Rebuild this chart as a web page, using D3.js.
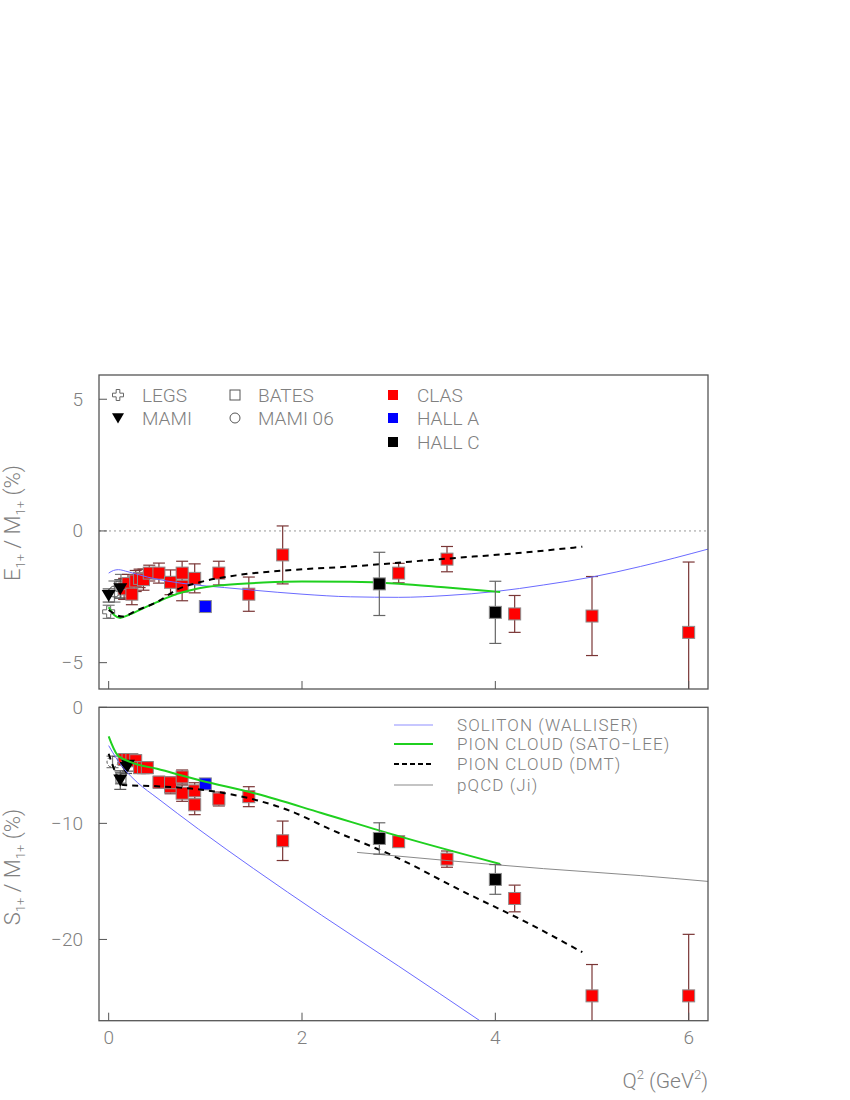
<!DOCTYPE html>
<html><head><meta charset="utf-8">
<script src="https://cdn.jsdelivr.net/npm/d3@7/dist/d3.min.js"></script>
<style>body{margin:0;background:#fff}svg{display:block}text{font-family:Roboto,"Liberation Sans",sans-serif;font-weight:300;fill:#808080}</style>
</head><body><svg id="c" width="850" height="1100"></svg>
<script>
// ---------- DATA ----------
// x tick labels / y ticks
const xTicks = [0, 2, 4, 6];
const emrTicks = [-5, 0, 5];
const cmrTicks = [-20, -10, 0];

// E1+/M1+ (EMR) data: [Q2, value, error]
const emrCLAS = [[0.16,-2.2,0.4],[0.2,-2.0,0.35],[0.24,-2.4,0.4],[0.28,-1.9,0.4],[0.32,-1.8,0.35],[0.36,-1.85,0.4],[0.42,-1.6,0.3],
  [0.52,-1.6,0.38],[0.64,-1.95,0.47],[0.76,-1.6,0.45],[0.76,-2.1,0.55],[0.89,-1.8,0.55],[1.14,-1.6,0.45],[1.45,-2.4,0.65],
  [1.8,-0.91,1.1],[3.0,-1.6,0.37],[3.5,-1.07,0.48],[4.2,-3.15,0.7],[5.0,-3.23,1.5],[6.0,-3.85,2.67]];
const emrHallA = [[1.0,-2.87,0]];
const emrHallC = [[2.8,-2.01,1.2],[4.0,-3.09,1.18]];
const emrLEGS = [[0.0,-3.07,0.25]];
const emrMAMI = [[0.0,-2.45,0.25],[0.12,-2.2,0.35]];
const emrBATES = [[0.127,-2.1,0.45]];
const emrMAMI06 = [[0.06,-2.3,0.4]];

// S1+/M1+ (CMR) data
const cmrCLAS = [[0.16,-4.5,0.5],[0.2,-4.5,0.5],[0.24,-4.5,0.5],[0.28,-4.6,0.5],[0.32,-5.2,0.5],[0.36,-5.2,0.5],[0.4,-5.2,0.5],
  [0.52,-6.45,0.5],[0.64,-6.85,0.6],[0.64,-6.5,0.5],[0.76,-6.0,0.6],[0.76,-7.4,0.7],[0.89,-7.2,0.7],[0.89,-8.4,0.85],
  [1.14,-7.9,0.6],[1.45,-7.7,0.86],[1.8,-11.5,1.7],[3.0,-11.58,0.4],[3.5,-13.08,0.7],[4.2,-16.47,1.15],[5.0,-24.86,2.7],[6.0,-24.86,5.3]];
const cmrHallA = [[1.0,-6.6,0]];
const cmrHallC = [[2.8,-11.3,1.35],[4.0,-14.83,1.28]];
const cmrMAMI = [[0.12,-6.27,0.8],[0.18,-5.2,0.5],[0.2,-5.0,0.5]];
const cmrBATES = [[0.127,-6.1,0.5]];
const cmrMAMI06 = [[0.04,-4.7,0.5]];

// Theory curves: [Q2, value]
const emrSoliton = [[0.0,-1.6],[0.05,-1.5],[0.1,-1.47],[0.2,-1.55],[0.4,-1.75],[0.6,-1.9],[0.9,-2.05],[1.2,-2.15],[1.5,-2.25],[2.0,-2.4],[2.5,-2.5],[3.0,-2.52],[3.5,-2.45],[4.0,-2.3],[4.5,-2.05],[5.0,-1.75],[5.5,-1.35],[6.2,-0.69]];
const emrSatoLee = [[0.0,-2.9],[0.06,-3.2],[0.12,-3.3],[0.2,-3.2],[0.35,-2.95],[0.5,-2.7],[0.7,-2.4],[0.9,-2.2],[1.2,-2.05],[1.6,-1.96],[2.0,-1.92],[2.5,-1.93],[3.0,-2.0],[3.5,-2.15],[4.05,-2.32]];
const emrDMT = [[0.0,-3.0],[0.14,-3.25],[0.3,-3.0],[0.5,-2.7],[0.7,-2.24],[0.95,-1.94],[1.35,-1.67],[1.9,-1.48],[2.5,-1.35],[3.5,-1.05],[4.2,-0.85],[4.9,-0.6]];
const cmrSoliton = [[0.0,-3.3],[0.08,-4.4],[0.15,-5.2],[0.3,-6.5],[0.5,-7.8],[0.93,-10.5],[1.5,-13.9],[2.2,-17.9],[3.0,-22.3],[3.84,-27.0]];
const cmrSatoLee = [[0.0,-2.5],[0.09,-4.1],[0.22,-4.7],[0.5,-5.3],[0.95,-6.3],[1.53,-7.45],[2.2,-9.1],[3.0,-11.1],[4.05,-13.5]];
const cmrDMT = [[0.0,-4.0],[0.07,-5.6],[0.15,-6.7],[0.5,-6.8],[0.85,-7.0],[1.2,-7.4],[1.53,-8.0],[1.87,-8.9],[2.29,-10.5],[2.97,-12.9],[3.65,-15.8],[4.34,-18.6],[4.9,-21.1]];
const cmrPQCD = [[2.57,-12.5],[3.5,-13.2],[4.5,-13.9],[5.5,-14.5],[6.2,-15.0]];

// legend labels
const legTop = [["LEGS","cross"],["MAMI","tri"],["BATES","osq"],["MAMI 06","ocirc"],["CLAS","red"],["HALL A","blue"],["HALL C","black"]];
const legBottom = [["SOLITON (WALLISER)","sol"],["PION CLOUD (SATO\u2212LEE)","sato"],["PION CLOUD (DMT)","dmt"],["pQCD (Ji)","pqcd"]];

// ---------- DRAW ----------
const svg = d3.select("#c");
const X0 = 99, X1 = 708;
const x = d3.scaleLinear().domain([-0.1, 6.2]).range([X0, X1]);
const yT = d3.scaleLinear().domain([-6, 5.92]).range([689, 375]);
const yB = d3.scaleLinear().domain([-27, 0]).range([1020.7, 707.3]);

const style = {
  sol: {stroke:"#6b6bff", w:1, dash:null},
  sato:{stroke:"#1fd01f", w:2, dash:null},
  dmt: {stroke:"#000", w:2, dash:"6,5"},
  pqcd:{stroke:"#8a8a8a", w:1, dash:null}
};

function panel(y, ticks, data, curves, top) {
  const g = svg.append("g");
  const clip = "clip" + (top ? "T" : "B");
  svg.append("clipPath").attr("id", clip).append("rect")
    .attr("x", X0).attr("y", y.range()[1]).attr("width", X1 - X0).attr("height", y.range()[0] - y.range()[1]);
  const inner = g.append("g").attr("clip-path", `url(#${clip})`);
  // zero line
  inner.append("line").attr("x1", X0).attr("x2", X1).attr("y1", y(0)).attr("y2", y(0))
    .attr("stroke", "#999").attr("stroke-width", 1).attr("stroke-dasharray", "2,3");

  const line = d3.line().x(d => x(d[0])).y(d => y(d[1])).curve(d3.curveMonotoneX);

  function errs(arr, col) {
    arr.forEach(d => {
      if (!d[2]) return;
      const cx = x(d[0]), y1 = y(d[1] + d[2]), y2 = y(d[1] - d[2]);
      inner.append("line").attr("x1", cx).attr("x2", cx).attr("y1", y1).attr("y2", y2).attr("stroke", col).attr("stroke-width", 1.2);
      [y1, y2].forEach(yy => inner.append("line").attr("x1", cx - 6).attr("x2", cx + 6).attr("y1", yy).attr("y2", yy).attr("stroke", col).attr("stroke-width", 1.2));
    });
  }
  function squares(arr, fill) {
    inner.selectAll(null).data(arr).enter().append("rect")
      .attr("x", d => x(d[0]) - 6).attr("y", d => y(d[1]) - 6).attr("width", 12).attr("height", 12)
      .attr("fill", fill).attr("stroke", "#8c8c8c").attr("stroke-width", 1);
  }
  // low-Q open data
  errs(data.bates || [], "#777"); errs(data.mami06 || [], "#777"); errs(data.legs || [], "#777"); errs(data.mami || [], "#555");
  (data.bates || []).forEach(d => inner.append("rect").attr("x", x(d[0]) - 5).attr("y", y(d[1]) - 5).attr("width", 10).attr("height", 10).attr("fill", "none").attr("stroke", "#555"));
  (data.mami06 || []).forEach(d => inner.append("circle").attr("cx", x(d[0])).attr("cy", y(d[1])).attr("r", 5.5).attr("fill", "none").attr("stroke", "#444").attr("stroke-dasharray", top ? null : "3,2"));
  (data.legs || []).forEach(d => inner.append("path").attr("d", crossPath(x(d[0]), y(d[1]), 6)).attr("fill", "#fff").attr("stroke", "#666"));

  errs(data.clas, "#7a3636");
  squares(data.clas, "#ff0000");
  squares(data.halla, "#0000ff");
  (data.mami || []).forEach(d => inner.append("path").attr("d", triPath(x(d[0]), y(d[1]), 7)).attr("fill", "#000"));

  curves.forEach(c => {
    const s = style[c[0]];
    inner.append("path").datum(c[1]).attr("d", line).attr("fill", "none")
      .attr("stroke", s.stroke).attr("stroke-width", s.w).attr("stroke-dasharray", s.dash);
  });
  errs(data.hallc, "#666");
  squares(data.hallc, "#000");

  // frame
  g.append("rect").attr("x", X0).attr("y", y.range()[1]).attr("width", X1 - X0).attr("height", y.range()[0] - y.range()[1])
    .attr("fill", "none").attr("stroke", "#555").attr("stroke-width", 1.3);
  // y ticks inside
  ticks.forEach(t => {
    g.append("line").attr("x1", X0).attr("x2", X0 + 8).attr("y1", y(t)).attr("y2", y(t)).attr("stroke", "#555");
    g.append("text").attr("x", 83).attr("y", y(t) + 6.5).attr("text-anchor", "end").attr("font-size", 19)
      .text(t < 0 ? "\u2212" + Math.abs(t) : t);
  });
  // x ticks inside
  xTicks.forEach(t => {
    g.append("line").attr("x1", x(t)).attr("x2", x(t)).attr("y1", y.range()[0]).attr("y2", y.range()[0] - 8).attr("stroke", "#555");
  });
}
function crossPath(cx, cy, r) {
  const a = r / 3;
  return `M${cx-a},${cy-r}H${cx+a}V${cy-a}H${cx+r}V${cy+a}H${cx+a}V${cy+r}H${cx-a}V${cy+a}H${cx-r}V${cy-a}H${cx-a}Z`;
}
function triPath(cx, cy, r) {
  return `M${cx-r},${cy-r*0.8}L${cx+r},${cy-r*0.8}L${cx},${cy+r*0.9}Z`;
}

panel(yT, emrTicks,
  {clas: emrCLAS, halla: emrHallA, hallc: emrHallC, legs: emrLEGS, mami: emrMAMI, bates: emrBATES, mami06: emrMAMI06},
  [["sol", emrSoliton], ["sato", emrSatoLee], ["dmt", emrDMT]], true);
panel(yB, cmrTicks,
  {clas: cmrCLAS, halla: cmrHallA, hallc: cmrHallC, mami: cmrMAMI, bates: cmrBATES, mami06: cmrMAMI06},
  [["sol", cmrSoliton], ["sato", cmrSatoLee], ["dmt", cmrDMT], ["pqcd", cmrPQCD]], false);

// x tick labels
xTicks.forEach(t => svg.append("text").attr("x", x(t)).attr("y", 1044).attr("text-anchor", "middle").attr("font-size", 19).text(t));
// x title
const xt = svg.append("text").attr("x", 708).attr("y", 1088).attr("text-anchor", "end").attr("font-size", 21);
xt.append("tspan").text("Q");
xt.append("tspan").attr("dy", -9).attr("font-size", 13).text("2");
xt.append("tspan").attr("dy", 9).text(" (GeV");
xt.append("tspan").attr("dy", -9).attr("font-size", 13).text("2");
xt.append("tspan").attr("dy", 9).text(")");

// y titles
function ytitle(letter, cy) {
  const t = svg.append("text").attr("transform", `translate(20,${cy}) rotate(-90)`).attr("text-anchor", "middle").attr("font-size", 22);
  t.append("tspan").text(letter);
  t.append("tspan").attr("dy", 5).attr("font-size", 13).text("1+");
  t.append("tspan").attr("dy", -5).text(" / M");
  t.append("tspan").attr("dy", 5).attr("font-size", 13).text("1+");
  t.append("tspan").attr("dy", -5).text(" (%)");
}
ytitle("E", 523);
ytitle("S", 867);

// top legend
const legPos = [[118,142,395],[118,142,418],[235,258,395],[235,258,418],[393,417,395],[393,417,418],[393,417,442]];
legTop.forEach((l, i) => {
  const [sx, tx, cy] = legPos[i];
  const k = l[1];
  if (k === "cross") svg.append("path").attr("d", crossPath(sx, cy, 5.5)).attr("fill", "none").attr("stroke", "#666");
  if (k === "tri") svg.append("path").attr("d", triPath(sx, cy, 6)).attr("fill", "#000");
  if (k === "osq") svg.append("rect").attr("x", sx - 5).attr("y", cy - 5).attr("width", 10).attr("height", 10).attr("fill", "none").attr("stroke", "#555");
  if (k === "ocirc") svg.append("circle").attr("cx", sx).attr("cy", cy).attr("r", 5).attr("fill", "none").attr("stroke", "#555");
  if (k === "red" || k === "blue" || k === "black")
    svg.append("rect").attr("x", sx - 5).attr("y", cy - 5).attr("width", 10).attr("height", 10)
      .attr("fill", k === "red" ? "#ff0000" : k === "blue" ? "#0000ff" : "#000");
  svg.append("text").attr("x", tx).attr("y", cy + 7).attr("font-size", 19).text(l[0]);
});

// bottom legend
const legBY = [725, 744, 764, 785];
legBottom.forEach((l, i) => {
  const s = style[l[1]];
  const cy = legBY[i];
  svg.append("line").attr("x1", 394).attr("x2", 433).attr("y1", cy).attr("y2", cy)
    .attr("stroke", l[1] === "sol" ? "#b4b4ff" : l[1] === "pqcd" ? "#b0b0b0" : s.stroke)
    .attr("stroke-width", s.w === 2 ? 2 : 1.5).attr("stroke-dasharray", l[1] === "dmt" ? "5,3" : null);
  svg.append("text").attr("x", 457).attr("y", cy + 6).attr("font-size", 17).attr("letter-spacing", 1.1).text(l[0]);
});
</script></body></html>
